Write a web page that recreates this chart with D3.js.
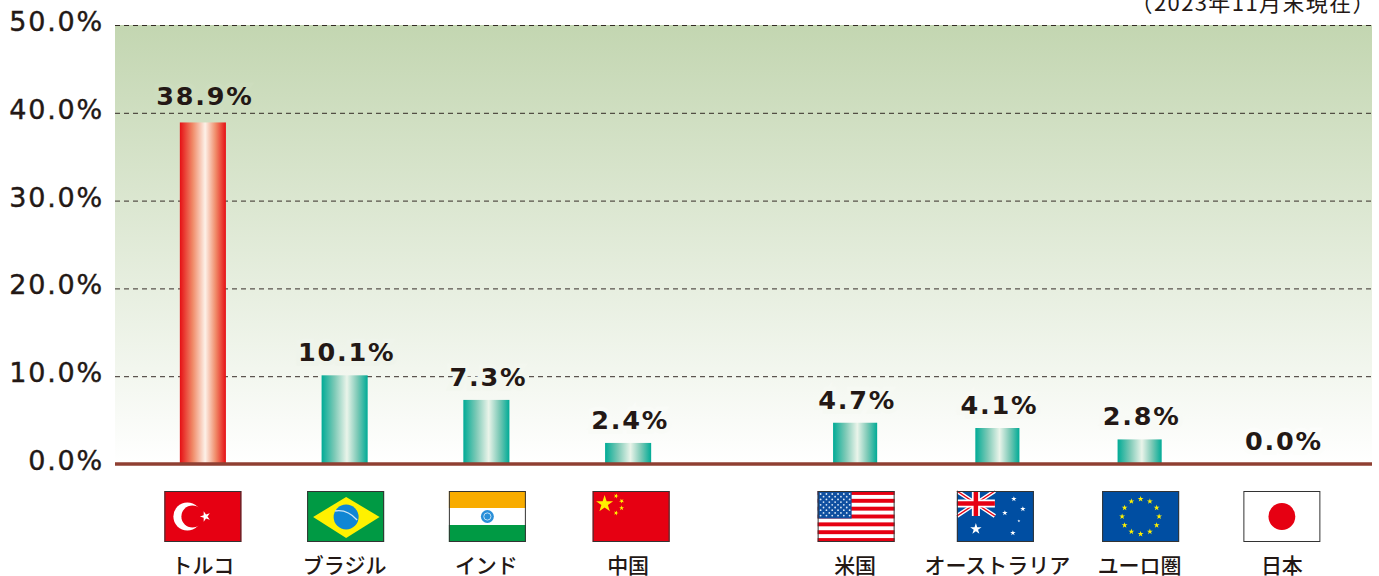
<!DOCTYPE html>
<html>
<head>
<meta charset="utf-8">
<script src="https://cdn.jsdelivr.net/npm/d3@7"></script>
<style>
html, body { margin: 0; padding: 0; background: #fff; overflow: hidden; }
text { fill: #231815; }
.num { font-family: "DejaVu Sans", sans-serif; letter-spacing: 1.8px; }
.jp { font-family: "Noto Sans CJK JP", sans-serif; font-weight: 500; }
.note { font-family: "Noto Sans CJK JP", sans-serif; letter-spacing: 1.4px; }
</style>
</head>
<body>
<svg id="s"></svg>
<script>
var emerging = ['トルコ', 'ブラジル', 'インド', '中国'];
var emergingValues = [38.9, 10.1, 7.3, 2.4];
var developed = ['米国', 'オーストラリア', 'ユーロ圏', '日本'];
var developedValues = [4.7, 4.1, 2.8, 0.0];
var yTicks = [0, 10, 20, 30, 40, 50];
var dateNote = '（2023年11月末現在）';

var width = 1379, height = 576;

var s = d3.select('#s').attr('width', width).attr('height', height);

var y = d3.scaleLinear().domain([0, 50]).range([464, 25]);
var x1 = d3.scaleBand().domain(emerging).range([132, 699]).paddingInner(0.675).paddingOuter(0.3375);
var x2 = d3.scaleBand().domain(developed).range([784, 1353]).paddingInner(0.69).paddingOuter(0.345);
var bgTop = '#c3d6b1', bgBottom = '#ffffff';
var bgAt = d3.scaleLinear().domain([y(50), y(0)]).range([bgTop, bgBottom]);

var defs = s.append('defs');

var bg = defs.append('linearGradient').attr('id', 'bg').attr('x1', 0).attr('x2', 0).attr('y1', 0).attr('y2', 1);
bg.append('stop').attr('offset', '0%').attr('stop-color', bgTop);
bg.append('stop').attr('offset', '100%').attr('stop-color', bgBottom);

function barGradient(id, edge, shade, mid) {
  var g = defs.append('linearGradient').attr('id', id);
  g.append('stop').attr('offset', '0%').attr('stop-color', edge);
  g.append('stop').attr('offset', '28%').attr('stop-color', shade);
  g.append('stop').attr('offset', '55%').attr('stop-color', mid);
  g.append('stop').attr('offset', '78%').attr('stop-color', shade);
  g.append('stop').attr('offset', '100%').attr('stop-color', edge);
}
barGradient('red', '#e60f14', '#f08a68', '#fdf1e8');
barGradient('teal', '#00ab96', '#7cc9b6', '#eaf4ea');

s.append('rect')
  .attr('x', 115).attr('y', y(50))
  .attr('width', 1257).attr('height', y(0) - y(50))
  .attr('fill', 'url(#bg)');

// grid + tick labels
var axis = d3.axisLeft(y)
  .tickValues(yTicks)
  .tickSize(-1257)
  .tickPadding(11)
  .tickFormat(function(d){ return d.toFixed(1) + '%'; });

var ga = s.append('g').attr('transform', 'translate(115,0)').call(axis);
ga.select('.domain').remove();
ga.selectAll('.tick line')
  .attr('stroke', '#231815').attr('stroke-width', 1).attr('stroke-dasharray', '5,4')
  .attr('opacity', 0.9);
ga.selectAll('.tick text')
  .attr('class', 'num')
  .attr('font-size', 27).attr('fill', '#231815')
  .attr('stroke', '#231815').attr('stroke-width', 0.4)
  .attr('dy', '0.2em')
  .attr('font-family', null);

function drawGroup(names, values, xs) {
  var rows = names.map(function(n, i){ return {name: n, value: values[i]}; });
  var g = s.append('g');

  g.selectAll('rect.bar')
    .data(rows.filter(function(d){ return d.value > 0; }))
    .enter().append('rect')
    .attr('class', 'bar')
    .attr('x', function(d){ return xs(d.name); })
    .attr('y', function(d){ return y(d.value); })
    .attr('width', xs.bandwidth())
    .attr('height', function(d){ return y(0) - y(d.value); })
    .attr('fill', function(d){ return d.name == 'トルコ' ? 'url(#red)' : 'url(#teal)'; });

  // labels knock the dashed line out behind them
  g.selectAll('text.val')
    .data(rows)
    .enter().append('text')
    .attr('class', 'val num')
    .attr('x', function(d){ return xs(d.name) + xs.bandwidth() / 2 + 2; })
    .attr('y', function(d){ return y(d.value) - (d.name == 'トルコ' ? 17 : 14); })
    .attr('text-anchor', 'middle')
    .attr('font-size', 25.5)
    .attr('font-weight', 'bold')
    .attr('stroke', function(d){ return bgAt(y(d.value) - 25); })
    .attr('stroke-width', 9)
    .attr('paint-order', 'stroke')
    .text(function(d){ return d.value.toFixed(1) + '%'; });

  g.selectAll('text.cat')
    .data(rows)
    .enter().append('text')
    .attr('class', 'cat jp')
    .attr('x', function(d){ return xs(d.name) + xs.bandwidth() / 2; })
    .attr('y', 572.5)
    .attr('text-anchor', 'middle')
    .attr('font-size', 21)
    .text(function(d){ return d.name; });

  g.selectAll('g.flag')
    .data(rows)
    .enter().append('g')
    .attr('class', 'flag')
    .attr('transform', function(d){
      return 'translate(' + (xs(d.name) + xs.bandwidth() / 2 - 38.5 + (flagNudge[d.name] || 0)) + ',491)';
    })
    .each(function(d){ flags[d.name](d3.select(this)); });
}

// flags are drawn on a 77x51 box
var FW = 77, FH = 51;
var flagNudge = {'ブラジル': 1, 'インド': 1, '中国': 3, '米国': 1, 'オーストラリア': -2, 'ユーロ圏': 1};

function box(g, fill) {
  g.append('rect').attr('width', FW).attr('height', FH).attr('fill', fill);
}
function frame(g) {
  g.append('rect').attr('x', 0.5).attr('y', 0.5).attr('width', FW - 1).attr('height', FH - 1)
    .attr('fill', 'none').attr('stroke', '#333').attr('stroke-width', 1);
}
function star(g, cx, cy, r, fill, rot) {
  g.append('path')
    .attr('d', d3.symbol().type(d3.symbolStar).size(r * r * 1.6)())
    .attr('transform', 'translate(' + cx + ',' + cy + ') rotate(' + (rot || 0) + ')')
    .attr('fill', fill);
}

var flags = {
  'トルコ': function(g) {
    box(g, '#e60012');
    g.append('circle').attr('cx', 23).attr('cy', 25.5).attr('r', 14).attr('fill', '#fff');
    g.append('circle').attr('cx', 28).attr('cy', 25.5).attr('r', 11).attr('fill', '#e60012');
    star(g, 41, 25.5, 4.6, '#fff', -90);
    frame(g);
  },
  'ブラジル': function(g) {
    box(g, '#009a44');
    g.append('path').attr('d', 'M6 26L39 6L72.5 26L39 47Z').attr('fill', '#fff100');
    g.append('circle').attr('cx', 39).attr('cy', 26).attr('r', 12.5).attr('fill', '#0f86d4');
    g.append('path').attr('d', 'M28 20Q40 18 50 29').attr('fill', 'none').attr('stroke', '#cfe6f5').attr('stroke-width', 1.3);
    frame(g);
  },
  'インド': function(g) {
    box(g, '#fff');
    g.append('rect').attr('width', FW).attr('height', 17).attr('fill', '#f8ac00');
    g.append('rect').attr('y', 34).attr('width', FW).attr('height', 17).attr('fill', '#009a44');
    g.append('circle').attr('cx', 38.5).attr('cy', 25.5).attr('r', 6.5).attr('fill', '#2a8fd8');
    g.append('circle').attr('cx', 38.5).attr('cy', 25.5).attr('r', 3.6).attr('fill', 'none').attr('stroke', '#bfe0f5').attr('stroke-width', 1);
    frame(g);
  },
  '中国': function(g) {
    box(g, '#e60012');
    star(g, 12, 13, 7.5, '#fff100');
    star(g, 23.5, 5, 2.2, '#fff100', 20);
    star(g, 29, 10, 2.2, '#fff100', 45);
    star(g, 29, 17, 2.2, '#fff100', 0);
    star(g, 23.5, 22, 2.2, '#fff100', 20);
    frame(g);
  },
  '米国': function(g) {
    box(g, '#fff');
    d3.range(0, 13, 2).forEach(function(i){
      g.append('rect').attr('y', i * FH / 13).attr('width', FW).attr('height', FH / 13).attr('fill', '#e60012');
    });
    g.append('rect').attr('width', 34).attr('height', 27.5).attr('fill', '#0f4fa0');
    d3.range(0, 9).forEach(function(r){
      d3.range(0, r % 2 ? 5 : 6).forEach(function(c){
        g.append('circle')
          .attr('cx', 3 + (r % 2 ? 2.9 : 0) + c * 5.8)
          .attr('cy', 3 + r * 2.7)
          .attr('r', 0.9).attr('fill', '#dce9f7');
      });
    });
    frame(g);
  },
  'オーストラリア': function(g) {
    box(g, '#004ea2');
    g.append('path').attr('d', 'M0 0L38 25M38 0L0 25').attr('stroke', '#fff').attr('stroke-width', 4);
    g.append('path').attr('d', 'M0 0L38 25M38 0L0 25').attr('stroke', '#e60012').attr('stroke-width', 1.4);
    g.append('path').attr('d', 'M19 0V25M0 12.5H38').attr('stroke', '#fff').attr('stroke-width', 8);
    g.append('path').attr('d', 'M19 0V25M0 12.5H38').attr('stroke', '#e60012').attr('stroke-width', 4.5);
    star(g, 19, 38, 5, '#fff');
    star(g, 57, 8, 2.4, '#fff');
    star(g, 66, 18, 2.4, '#fff');
    star(g, 48, 22, 2.4, '#fff');
    star(g, 62, 30, 1.3, '#fff');
    star(g, 56, 42, 2.4, '#fff');
    frame(g);
  },
  'ユーロ圏': function(g) {
    box(g, '#004ea2');
    d3.range(0, 12).forEach(function(i){
      var a = i * Math.PI / 6;
      star(g, 38.5 + 18.5 * Math.sin(a), 25.5 - 17.5 * Math.cos(a), 2.6, '#fff100');
    });
    frame(g);
  },
  '日本': function(g) {
    box(g, '#fff');
    g.append('circle').attr('cx', 38.5).attr('cy', 25.5).attr('r', 13.4).attr('fill', '#e60012');
    frame(g);
  }
};

drawGroup(emerging, emergingValues, x1);
drawGroup(developed, developedValues, x2);

s.append('line')
  .attr('x1', 115).attr('x2', 1372)
  .attr('y1', y(0)).attr('y2', y(0))
  .attr('stroke', '#8f3f32').attr('stroke-width', 3.5);

s.append('text')
  .attr('class', 'note')
  .attr('x', 1376).attr('y', 10.5)
  .attr('text-anchor', 'end')
  .attr('font-size', 22)
  .text(dateNote);
</script>
</body>
</html>
